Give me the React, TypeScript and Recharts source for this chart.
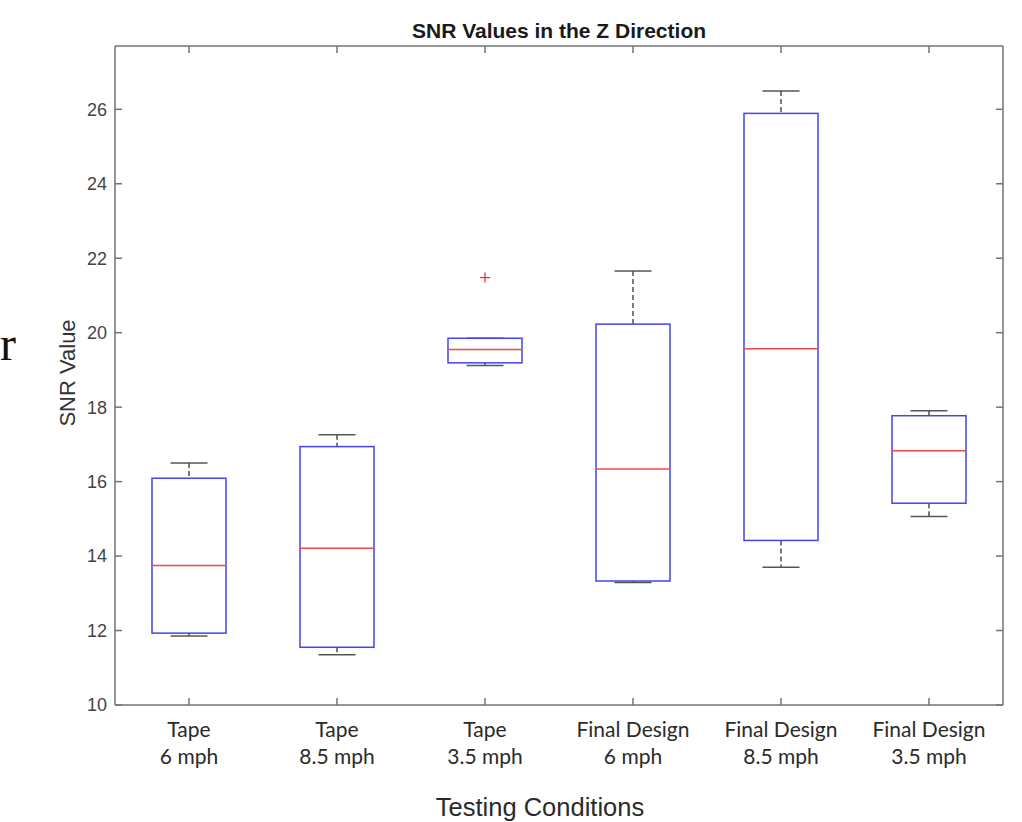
import React from "react";
import {
  ComposedChart,
  Bar,
  Scatter,
  XAxis,
  YAxis,
} from "recharts";

// SNR box plot

const groups = ["Tape", "Tape", "Tape", "Final Design", "Final Design", "Final Design"];
const speeds = ["6 mph", "8.5 mph", "3.5 mph", "6 mph", "8.5 mph", "3.5 mph"];
const whiskerLow = [11.85, 11.35, 19.12, 13.29, 13.7, 15.06];
const q1 = [11.93, 11.55, 19.19, 13.33, 14.42, 15.42];
const median = [13.75, 14.21, 19.55, 16.34, 19.57, 16.83];
const q3 = [16.09, 16.94, 19.85, 20.23, 25.89, 17.77];
const whiskerHigh = [16.5, 17.26, 19.85, 21.66, 26.49, 17.9];
const outliers: (number | null)[] = [null, null, 21.48, null, null, null];
const yTicks = [10, 12, 14, 16, 18, 20, 22, 24, 26];

const data = groups.map((g, i) => ({
  name: `${g}|${speeds[i]}`,
  range: [whiskerLow[i], whiskerHigh[i]],
  q1: q1[i],
  median: median[i],
  q3: q3[i],
  outlier: outliers[i],
}));

const AXIS = "#737373";
const BLUE = "#4343f0";
const RED = "#f04848";

function BoxShape(props: any) {
  const { x, y, width, height, payload } = props;
  if (!payload || height == null) return <g />;
  const [lo, hi] = payload.range;
  const toY = (v: number) => y + ((hi - v) / (hi - lo)) * height;
  const cx = x + width / 2;
  const cap = width / 2;
  return (
    <g>
      <line x1={cx} x2={cx} y1={toY(hi)} y2={toY(payload.q3)} stroke="#333" strokeWidth={1.3} strokeDasharray="5 3" />
      <line x1={cx} x2={cx} y1={toY(payload.q1)} y2={toY(lo)} stroke="#333" strokeWidth={1.3} strokeDasharray="5 3" />
      <line x1={cx - cap / 2} x2={cx + cap / 2} y1={toY(hi)} y2={toY(hi)} stroke="#555" strokeWidth={1.5} />
      <line x1={cx - cap / 2} x2={cx + cap / 2} y1={toY(lo)} y2={toY(lo)} stroke="#555" strokeWidth={1.5} />
      <rect
        x={x}
        y={toY(payload.q3)}
        width={width}
        height={toY(payload.q1) - toY(payload.q3)}
        fill="none"
        stroke={BLUE}
        strokeWidth={1.5}
      />
      <line x1={x} x2={x + width} y1={toY(payload.median)} y2={toY(payload.median)} stroke={RED} strokeWidth={1.5} />
    </g>
  );
}

function PlusShape(props: any) {
  const { cx, cy } = props;
  if (cy == null || isNaN(cy) || props.payload?.outlier == null) return <g />;
  return (
    <g stroke="#f03030" strokeWidth={1.3}>
      <line x1={cx - 5} x2={cx + 5} y1={cy} y2={cy} />
      <line x1={cx} x2={cx} y1={cy - 5} y2={cy + 5} />
    </g>
  );
}

function XTick({ x, y, payload }: any) {
  const [a, b] = String(payload.value).split("|");
  return (
    <text x={x} y={y} textAnchor="middle" fill="#2a2a2a" fontFamily="Lato, 'Open Sans', sans-serif" fontSize={21}>
      <tspan x={x} dy={24}>{a}</tspan>
      <tspan x={x} dy={27}>{b}</tspan>
    </text>
  );
}

const noTick = () => <g />;

export default function App() {
  return (
    <div style={{ position: "absolute", left: 0, top: 0, width: 1022, height: 822, background: "#fff" }}>
      <ComposedChart
        width={1022}
        height={822}
        data={data}
        margin={{ top: 36, right: 9, bottom: 57, left: 55 }}
      >
        <XAxis
          xAxisId="b"
          dataKey="name"
          height={60}
          interval={0}
          stroke={AXIS}
          strokeWidth={1.5}
          tickSize={-7}
          tickMargin={15}
          tick={<XTick />}
        />
        <XAxis
          xAxisId="t"
          orientation="top"
          dataKey="name"
          height={10}
          interval={0}
          stroke={AXIS}
          strokeWidth={1.5}
          tickSize={-7}
          tick={noTick}
        />
        <YAxis
          yAxisId="l"
          type="number"
          domain={[10, 27.7]}
          ticks={yTicks}
          allowDataOverflow
          width={60}
          stroke={AXIS}
          strokeWidth={1.5}
          tickSize={-7}
          tickMargin={15}
          tick={{ fill: "#444", fontSize: 18, fontFamily: "'Liberation Sans', Arial, sans-serif" }}
        />
        <YAxis
          yAxisId="r"
          orientation="right"
          type="number"
          domain={[10, 27.7]}
          ticks={yTicks}
          allowDataOverflow
          width={10}
          stroke={AXIS}
          strokeWidth={1.5}
          tickSize={-7}
          tick={noTick}
        />
        <Bar
          xAxisId="b"
          yAxisId="l"
          dataKey="range"
          barSize={74}
          shape={<BoxShape />}
          isAnimationActive={false}
        />
        <Scatter
          xAxisId="t"
          yAxisId="r"
          dataKey="outlier"
          shape={<PlusShape />}
          isAnimationActive={false}
        />
      </ComposedChart>
      <svg
        width={1022}
        height={822}
        style={{ position: "absolute", left: 0, top: 0, pointerEvents: "none" }}
        fontFamily="'Liberation Sans', Arial, sans-serif"
      >
        <text x={559} y={38} textAnchor="middle" fontWeight="bold" fontSize={21} fill="#1a1a1a">
          SNR Values in the Z Direction
        </text>
        <text x={540} y={816} textAnchor="middle" fontSize={25.5} fill="#2a2a2a">
          Testing Conditions
        </text>
        <text transform="translate(75,373) rotate(-90)" textAnchor="middle" fontSize={22} fill="#333">
          SNR Value
        </text>
        <text x={0} y={360} fontSize={48} fontFamily="'Liberation Serif', serif" fill="#111">
          r
        </text>
      </svg>
    </div>
  );
}
